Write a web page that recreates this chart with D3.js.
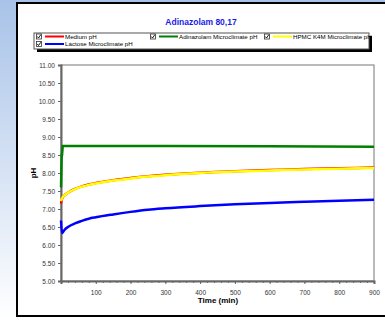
<!DOCTYPE html>
<html>
<head>
<meta charset="utf-8">
<script src="https://d3js.org/d3.v7.min.js"></script>
<style>
  body { margin: 0; overflow: hidden; }
  text { font-family: Arial, "Liberation Sans", sans-serif; }
</style>
</head>
<body>
<div id="chart"></div>
<script>
// Time points (min) and pH values
var timeMedium = [0, 2, 5, 10, 20, 40, 60, 80, 100, 150, 200, 250, 300, 400, 500, 600, 700, 800, 900];
var mediumPH   = [7.15, 7.25, 7.32, 7.38, 7.45, 7.56, 7.63, 7.68, 7.72, 7.80, 7.86, 7.91, 7.95, 8.01, 8.05, 8.08, 8.11, 8.13, 8.15];
var hpmcPH     = [7.22, 7.28, 7.33, 7.38, 7.45, 7.55, 7.62, 7.67, 7.71, 7.79, 7.85, 7.90, 7.94, 8.00, 8.04, 8.07, 8.10, 8.12, 8.14];

var timeAdina  = [0, 2, 3, 5, 300, 600, 900];
var adinaPH    = [7.60, 8.50, 8.50, 8.75, 8.75, 8.74, 8.73];

var timeLactose = [0, 3, 6, 10, 20, 40, 60, 80, 100, 150, 200, 250, 300, 400, 500, 600, 700, 800, 900];
var lactosePH   = [6.68, 6.33, 6.36, 6.42, 6.50, 6.60, 6.67, 6.73, 6.77, 6.85, 6.92, 6.98, 7.02, 7.08, 7.13, 7.17, 7.20, 7.23, 7.26];

var yTicks = [5, 5.5, 6, 6.5, 7, 7.5, 8, 8.5, 9, 9.5, 10, 10.5, 11];
var xTicks = [100, 200, 300, 400, 500, 600, 700, 800, 900];

var series = [
  { name: "Medium pH", color: "#ff0000", t: timeMedium, v: mediumPH },
  { name: "Adinazolam Microclimate pH", color: "#008000", t: timeAdina, v: adinaPH },
  { name: "HPMC K4M Microclimate pH", color: "#ffff00", t: timeMedium, v: hpmcPH },
  { name: "Lactose Microclimate pH", color: "#0000ff", t: timeLactose, v: lactosePH }
];

var width = 385, height = 320;
var svg = d3.select("#chart").append("svg")
  .attr("width", width).attr("height", height);

// background gradient on the left
var defs = svg.append("defs");
var grad = defs.append("linearGradient").attr("id", "bg")
  .attr("x1", 0).attr("y1", 0).attr("x2", 0).attr("y2", 1);
grad.append("stop").attr("offset", "0%").attr("stop-color", "#a8c3e8");
grad.append("stop").attr("offset", "100%").attr("stop-color", "#ffffff");
svg.append("rect").attr("width", width).attr("height", height).attr("fill", "url(#bg)");

// white panel
svg.append("rect").attr("x", 17).attr("y", 3).attr("width", 380).attr("height", 313)
  .attr("fill", "#fff").attr("stroke", "#000").attr("stroke-width", 2);

// title
svg.append("text").attr("x", 201).attr("y", 25).attr("text-anchor", "middle")
  .attr("font-size", 8.5).attr("font-weight", "bold").attr("fill", "#1a1ae6")
  .text("Adinazolam 80,17");

// legend
var lg = svg.append("g");
lg.append("rect").attr("x", 37).attr("y", 36).attr("width", 335).attr("height", 16).attr("fill", "#000");
lg.append("rect").attr("x", 34).attr("y", 33).attr("width", 335).attr("height", 16)
  .attr("fill", "#fff").attr("stroke", "#555").attr("stroke-width", 1);
var legPos = [[36, 37.5], [150, 37.5], [264, 37.5], [36, 45]];
series.forEach(function(s, i) {
  var x = legPos[i][0], y = legPos[i][1];
  var it = lg.append("g").attr("transform", "translate(" + x + "," + y + ")");
  it.append("rect").attr("x", 0.5).attr("y", -3.5).attr("width", 5).attr("height", 5)
    .attr("fill", "#fff").attr("stroke", "#333").attr("stroke-width", 0.8);
  it.append("path").attr("d", "M1.3,-1 L2.5,0.5 L4.8,-2.8").attr("fill", "none")
    .attr("stroke", "#000").attr("stroke-width", 0.9);
  it.append("line").attr("x1", 9).attr("x2", 28).attr("y1", -1).attr("y2", -1)
    .attr("stroke", s.color).attr("stroke-width", 2);
  it.append("text").attr("x", 29).attr("y", 1.3).attr("font-size", 6.2).attr("fill", "#000")
    .text(s.name);
});

// scales
var x = d3.scaleLinear().domain([0, 900]).range([61, 374]);
var y = d3.scaleLinear().domain([5, 11]).range([281, 65]);

// plot frame
svg.append("rect").attr("x", 61).attr("y", 65).attr("width", 313).attr("height", 216)
  .attr("fill", "#fff").attr("stroke", "#777").attr("stroke-width", 1);

// y axis
var yAxis = svg.append("g").attr("transform", "translate(61,0)")
  .call(d3.axisLeft(y).tickValues(yTicks).tickFormat(d3.format(".2f")).tickSize(3).tickPadding(3));
yAxis.select(".domain").attr("stroke", "#666").attr("stroke-width", 2);
yAxis.selectAll(".tick line").attr("stroke", "#666");
yAxis.selectAll("text").attr("font-size", 6.5).attr("fill", "#333")
  .attr("font-family", "Arial, 'Liberation Sans', sans-serif");

// x axis: minor ticks every 20
var xMinor = svg.append("g").attr("transform", "translate(0,281)")
  .call(d3.axisBottom(x).ticks(45).tickSize(2).tickFormat(""));
xMinor.select(".domain").remove();
xMinor.selectAll(".tick line").attr("stroke", "#666");
var xAxis = svg.append("g").attr("transform", "translate(0,281)")
  .call(d3.axisBottom(x).tickValues(xTicks).tickSize(3).tickPadding(6));
xAxis.select(".domain").attr("stroke", "#666").attr("stroke-width", 2);
xAxis.selectAll(".tick line").attr("stroke", "#666");
xAxis.selectAll("text").attr("font-size", 6.5).attr("fill", "#333")
  .attr("font-family", "Arial, 'Liberation Sans', sans-serif");

// axis titles
svg.append("text").attr("x", 218).attr("y", 303).attr("text-anchor", "middle")
  .attr("font-size", 8).attr("font-weight", "bold").text("Time (min)");
svg.append("text").attr("transform", "translate(36,173) rotate(-90)").attr("text-anchor", "middle")
  .attr("font-size", 8).attr("font-weight", "bold").text("pH");

// lines
var line = d3.line()
  .x(function(d) { return x(d[0]); })
  .y(function(d) { return y(d[1]); })
  .curve(d3.curveMonotoneX);
var lineStep = d3.line()
  .x(function(d) { return x(d[0]); })
  .y(function(d) { return y(d[1]); });

var plot = svg.append("g");
series.forEach(function(s, i) {
  var pts = s.t.map(function(t, j) { return [t, s.v[j]]; });
  plot.append("path").datum(pts)
    .attr("d", i === 1 ? lineStep : line)
    .attr("fill", "none").attr("stroke", s.color).attr("stroke-width", 2.5);
});
</script>
</body>
</html>
